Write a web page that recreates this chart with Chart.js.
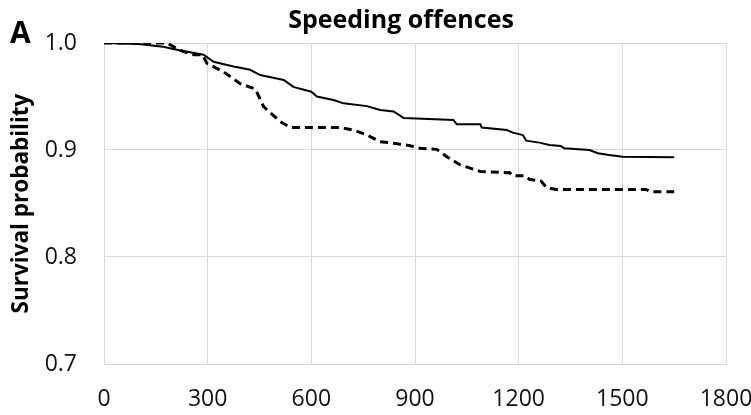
<!DOCTYPE html>
<html>
<head>
<meta charset="utf-8">
<script src="https://cdn.jsdelivr.net/npm/chart.js@4.4.0/dist/chart.umd.min.js"></script>
<style>
  html, body { margin: 0; padding: 0; background: #ffffff; }
  #wrap { position: relative; width: 751px; height: 415px; overflow: hidden; }
  #panel { position: absolute; left: 10px; top: 11px; font: bold 30px "Open Sans", sans-serif; color: #000; }
  #title { position: absolute; left: 0; width: 802px; top: 1px; text-align: center; font: bold 25px "Open Sans", sans-serif; color: #000; }
  canvas { position: absolute; left: 0; top: 0; }
</style>
</head>
<body>
<div id="wrap">
  <canvas id="c" width="751" height="415"></canvas>
  <div id="title">Speeding offences</div>
  <div id="panel">A</div>
</div>
<script>
// Data (days vs survival probability)
const solidDays = [0, 100, 171, 221, 288, 317, 375, 423, 452, 520, 548, 600, 616, 664, 693, 761, 799, 838, 867, 1011, 1021, 1089, 1093, 1166, 1183, 1212, 1222, 1260, 1289, 1322, 1332, 1405, 1429, 1462, 1501, 1650];
const solidSurv = [1.0, 0.999, 0.9965, 0.993, 0.989, 0.9825, 0.978, 0.975, 0.970, 0.9655, 0.959, 0.9545, 0.950, 0.9467, 0.9436, 0.941, 0.9374, 0.936, 0.930, 0.928, 0.924, 0.924, 0.921, 0.9187, 0.9162, 0.914, 0.9087, 0.9069, 0.9047, 0.9037, 0.9016, 0.900, 0.897, 0.8953, 0.8938, 0.8932];

const dashedDays = [0, 182, 221, 259, 285, 298, 346, 394, 438, 462, 510, 539, 683, 722, 761, 799, 838, 886, 915, 963, 992, 1031, 1089, 1166, 1173, 1183, 1217, 1231, 1265, 1280, 1308, 1568, 1583, 1650];
const dashedSurv = [1.0, 1.0, 0.993, 0.989, 0.989, 0.981, 0.973, 0.962, 0.957, 0.9405, 0.9265, 0.921, 0.921, 0.9187, 0.914, 0.9078, 0.9063, 0.904, 0.9016, 0.9006, 0.8938, 0.886, 0.880, 0.8788, 0.879, 0.876, 0.876, 0.8726, 0.871, 0.865, 0.8631, 0.8631, 0.861, 0.861];

const xTicks = [0, 300, 600, 900, 1200, 1500, 1800];
const yTicks = [0.7, 0.8, 0.9, 1.0];
const yAxisTitle = "Survival probability";

const toPts = (xs, ys) => xs.map((x, i) => ({ x: x, y: ys[i] }));

const FONT = '"Open Sans", sans-serif';
const GRID = '#d9d9d9';

new Chart(document.getElementById('c'), {
  type: 'line',
  data: {
    datasets: [
      {
        label: 'Solid',
        data: toPts(solidDays, solidSurv),
        borderColor: '#000',
        borderWidth: 2,
        pointRadius: 0,
        fill: false,
        tension: 0
      },
      {
        label: 'Dashed',
        data: toPts(dashedDays, dashedSurv),
        borderColor: '#000',
        borderWidth: 3,
        borderDash: [8, 5],
        pointRadius: 0,
        fill: false,
        tension: 0
      }
    ]
  },
  options: {
    responsive: false,
    animation: false,
    layout: { padding: { left: 0, right: 25, top: 43, bottom: 0 } },
    plugins: {
      legend: { display: false },
      title: { display: false },
      tooltip: { enabled: false }
    },
    scales: {
      x: {
        type: 'linear',
        min: 0,
        max: 1800,
        afterBuildTicks: (s) => { s.ticks = xTicks.map(v => ({ value: v })); },
        afterFit: (s) => { s.height = 51; s.paddingRight = 0; },
        grid: { color: GRID, drawTicks: false, lineWidth: 1 },
        border: { color: GRID, width: 1 },
        ticks: {
          padding: 22, color: '#111', font: { family: FONT, size: 23 }, maxRotation: 0, autoSkip: false,
          callback: (v) => String(v)
        }
      },
      y: {
        type: 'linear',
        min: 0.7,
        max: 1.0,
        afterBuildTicks: (s) => { s.ticks = yTicks.map(v => ({ value: v })); },
        afterFit: (s) => { s.width = 104; },
        grid: { color: GRID, drawTicks: false, lineWidth: 1 },
        border: { color: GRID, width: 1 },
        ticks: {
          padding: 27, color: '#111', font: { family: FONT, size: 23 },
          callback: (v) => Number(v).toFixed(1)
        },
        title: {
          display: true,
          text: yAxisTitle,
          color: '#000',
          font: { family: FONT, size: 22.5, weight: 'bold' },
          padding: { top: 8, bottom: 0 }
        }
      }
    }
  }
});
</script>
</body>
</html>
